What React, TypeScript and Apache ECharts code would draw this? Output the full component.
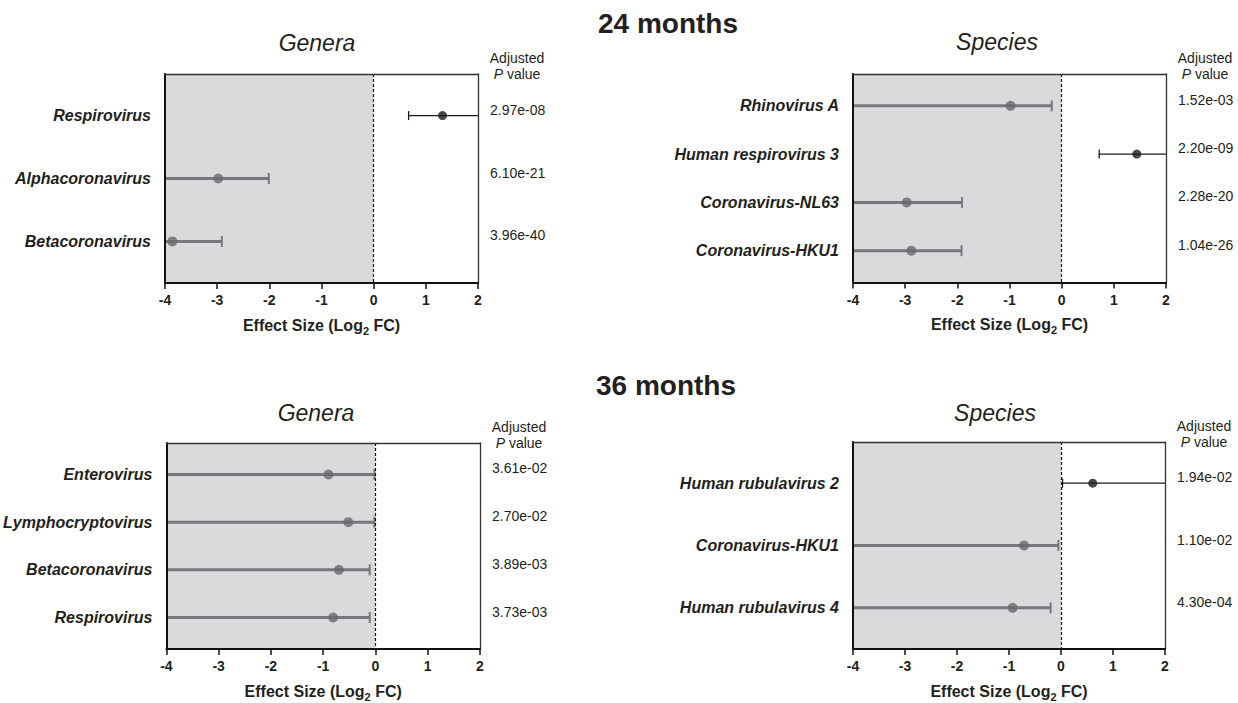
import React, { useEffect, useRef } from "react";
import * as echarts from "echarts";

const XMIN = -4;
const XMAX = 2;
const PAD = 0.66;

// 24 months – Genera
const g24Names = ["Respirovirus", "Alphacoronavirus", "Betacoronavirus"];
const g24Est = [1.32, -2.98, -3.86];
const g24Lo = [0.67, -4.6, -4.8];
const g24Hi = [2.3, -2.01, -2.91];
const g24P = ["2.97e-08", "6.10e-21", "3.96e-40"];

// 24 months – Species
const s24Names = ["Rhinovirus A", "Human respirovirus 3", "Coronavirus-NL63", "Coronavirus-HKU1"];
const s24Est = [-0.98, 1.44, -2.97, -2.88];
const s24Lo = [-4.5, 0.72, -4.4, -4.3];
const s24Hi = [-0.19, 2.2, -1.91, -1.92];
const s24P = ["1.52e-03", "2.20e-09", "2.28e-20", "1.04e-26"];

// 36 months – Genera
const g36Names = ["Enterovirus", "Lymphocryptovirus", "Betacoronavirus", "Respirovirus"];
const g36Est = [-0.9, -0.52, -0.7, -0.81];
const g36Lo = [-4.5, -4.5, -4.5, -4.5];
const g36Hi = [-0.02, -0.02, -0.11, -0.11];
const g36P = ["3.61e-02", "2.70e-02", "3.89e-03", "3.73e-03"];

// 36 months – Species
const s36Names = ["Human rubulavirus 2", "Coronavirus-HKU1", "Human rubulavirus 4"];
const s36Est = [0.61, -0.71, -0.93];
const s36Lo = [0.03, -4.5, -4.5];
const s36Hi = [2.3, -0.05, -0.2];
const s36P = ["1.94e-02", "1.10e-02", "4.30e-04"];

const headings = ["24 months", "36 months"];

const FONT = "'Liberation Sans', Arial, Helvetica, sans-serif";
const TXT = "#231f20";
const GRAY_LINE = "#77787b";
const GRAY_DOT = "#68696c";
const BLACK = "#1a1a1a";
const SHADE = "#d9dadc";

const panels = [
  { title: "Genera", names: g24Names, est: g24Est, lo: g24Lo, hi: g24Hi, p: g24P,
    grid: { left: 165, top: 74, width: 313, height: 209 }, titlePos: [317, 43] },
  { title: "Species", names: s24Names, est: s24Est, lo: s24Lo, hi: s24Hi, p: s24P,
    grid: { left: 853, top: 74, width: 313, height: 208.5 }, titlePos: [997, 42] },
  { title: "Genera", names: g36Names, est: g36Est, lo: g36Lo, hi: g36Hi, p: g36P,
    grid: { left: 166, top: 443, width: 314, height: 208 }, titlePos: [316, 413] },
  { title: "Species", names: s36Names, est: s36Est, lo: s36Lo, hi: s36Hi, p: s36P,
    grid: { left: 853, top: 442, width: 312, height: 209 }, titlePos: [995, 413] },
];

function buildOption() {
  const grid: any[] = [];
  const xAxis: any[] = [];
  const yAxis: any[] = [];
  const series: any[] = [];
  const graphic: any[] = [];

  panels.forEach((pn, i) => {
    const n = pn.names.length;
    const idx = pn.names.map((_, k) => k);
    grid.push({ ...pn.grid, containLabel: false });
    // bottom axis
    xAxis.push({
      type: "value", gridIndex: i, min: XMIN, max: XMAX, interval: 1, position: "bottom", z: 5,
      axisLine: { show: true, onZero: false, lineStyle: { color: "#111", width: 2 } },
      axisTick: { show: true, length: 6, lineStyle: { color: "#111", width: 1.5 } },
      axisLabel: { color: TXT, fontWeight: "bold", fontSize: 14, fontFamily: FONT, margin: 10 },
      splitLine: { show: false },
      name: "{a|Effect Size (Log}{s|2}{a| FC)}",
      nameLocation: "middle",
      nameGap: 34,
      nameTextStyle: {
        rich: {
          a: { fontSize: 16, fontWeight: "bold", fontFamily: FONT, color: TXT, verticalAlign: "bottom", padding: [0, 0, 3, 0] },
          s: { fontSize: 11, fontWeight: "bold", fontFamily: FONT, color: TXT, verticalAlign: "bottom" },
        },
      },
    });
    // top frame axis
    xAxis.push({
      type: "value", gridIndex: i, min: XMIN, max: XMAX, position: "top", z: 5,
      axisLine: { show: true, onZero: false, lineStyle: { color: "#333", width: 1.3 } },
      axisTick: { show: false }, axisLabel: { show: false }, splitLine: { show: false },
    });
    // left axis with names
    yAxis.push({
      type: "value", gridIndex: i, inverse: true, min: -PAD, max: n - 1 + PAD, position: "left", z: 5,
      axisLine: { show: true, onZero: false, lineStyle: { color: "#111", width: 2 } },
      axisTick: { show: false }, splitLine: { show: false },
      axisLabel: {
        customValues: idx,
        formatter: (v: number) => pn.names[Math.round(v)] ?? "",
        fontStyle: "italic", fontWeight: "bold", fontSize: 16, fontFamily: FONT, color: TXT, margin: 14,
      },
    });
    // right axis with p values
    yAxis.push({
      type: "value", gridIndex: i, inverse: true, min: -PAD, max: n - 1 + PAD, position: "right", z: 5,
      axisLine: { show: true, onZero: false, lineStyle: { color: "#333", width: 1.3 } },
      axisTick: { show: false }, splitLine: { show: false },
      axisLabel: {
        customValues: idx,
        formatter: (v: number) => pn.p[Math.round(v)] ?? "",
        fontSize: 14, fontFamily: FONT, color: TXT, margin: 12,
        verticalAlign: "bottom", lineHeight: 12,
      },
    });

    const data = pn.est.map((e, k) => [e, k, pn.lo[k], pn.hi[k]]);
    series.push({
      type: "custom",
      xAxisIndex: 2 * i,
      yAxisIndex: 2 * i,
      z: 2,
      silent: true,
      encode: { x: 0, y: 1 },
      data,
      renderItem: (params: any, api: any) => {
        const e = api.value(0);
        const y = api.value(1);
        const lo = api.value(2);
        const hi = api.value(3);
        const neg = e < 0;
        const color = neg ? GRAY_LINE : BLACK;
        const w = neg ? 3 : 1.3;
        const capH = neg ? 5.5 : 4.5;
        const capW = neg ? 2 : 1.3;
        const p1 = api.coord([Math.max(lo, XMIN), y]);
        const p2 = api.coord([Math.min(hi, XMAX), y]);
        const children: any[] = [
          { type: "line", shape: { x1: p1[0], y1: p1[1], x2: p2[0], y2: p2[1] }, style: { stroke: color, lineWidth: w } },
        ];
        if (lo >= XMIN) {
          children.push({ type: "line", shape: { x1: p1[0], y1: p1[1] - capH, x2: p1[0], y2: p1[1] + capH }, style: { stroke: color, lineWidth: capW } });
        }
        if (hi <= XMAX) {
          children.push({ type: "line", shape: { x1: p2[0], y1: p2[1] - capH, x2: p2[0], y2: p2[1] + capH }, style: { stroke: color, lineWidth: capW } });
        }
        return { type: "group", children };
      },
      markArea: {
        silent: true,
        itemStyle: { color: SHADE },
        data: [[{ xAxis: XMIN }, { xAxis: 0 }]],
      },
    });
    series.push({
      type: "scatter",
      xAxisIndex: 2 * i,
      yAxisIndex: 2 * i,
      z: 3,
      silent: true,
      data: pn.est.map((e, k) => ({
        value: [e, k],
        symbolSize: e < 0 ? 10 : 9,
        itemStyle: { color: e < 0 ? GRAY_DOT : BLACK },
      })),
      markLine: {
        silent: true,
        symbol: ["none", "none"],
        label: { show: false },
        lineStyle: { color: "#111", width: 1.2, type: [3, 2] },
        data: [{ xAxis: 0 }],
      },
    });

    const g = pn.grid;
    graphic.push({
      type: "text", x: pn.titlePos[0], y: pn.titlePos[1],
      style: { text: pn.title, fill: TXT, font: `italic 23px ${FONT}`, align: "center", verticalAlign: "middle" },
    });
    const hx = g.left + g.width + 39;
    graphic.push({
      type: "text", x: hx, y: g.top - 16,
      style: { text: "Adjusted", fill: TXT, font: `14px ${FONT}`, align: "center", verticalAlign: "middle" },
    });
    graphic.push({
      type: "text", x: hx, y: g.top,
      style: {
        text: "{i|P} value", fill: TXT, font: `14px ${FONT}`, align: "center", verticalAlign: "middle",
        rich: { i: { fontStyle: "italic", fontSize: 14, fontFamily: FONT, fill: TXT } },
      },
    });
  });

  graphic.push({
    type: "text", x: 668, y: 23,
    style: { text: headings[0], fill: TXT, font: `bold 28px ${FONT}`, align: "center", verticalAlign: "middle" },
  });
  graphic.push({
    type: "text", x: 666, y: 385,
    style: { text: headings[1], fill: TXT, font: `bold 28px ${FONT}`, align: "center", verticalAlign: "middle" },
  });

  return {
    animation: false,
    backgroundColor: "#ffffff",
    textStyle: { fontFamily: FONT },
    grid, xAxis, yAxis, series, graphic,
  };
}

export default function App() {
  const ref = useRef<HTMLDivElement>(null);
  useEffect(() => {
    if (!ref.current) return;
    const chart = echarts.init(ref.current, undefined, { renderer: "svg" });
    chart.setOption(buildOption() as any);
    return () => chart.dispose();
  }, []);
  return (
    <div
      ref={ref}
      style={{ position: "fixed", left: 0, top: 0, width: 1238, height: 703, background: "#fff" }}
    />
  );
}
